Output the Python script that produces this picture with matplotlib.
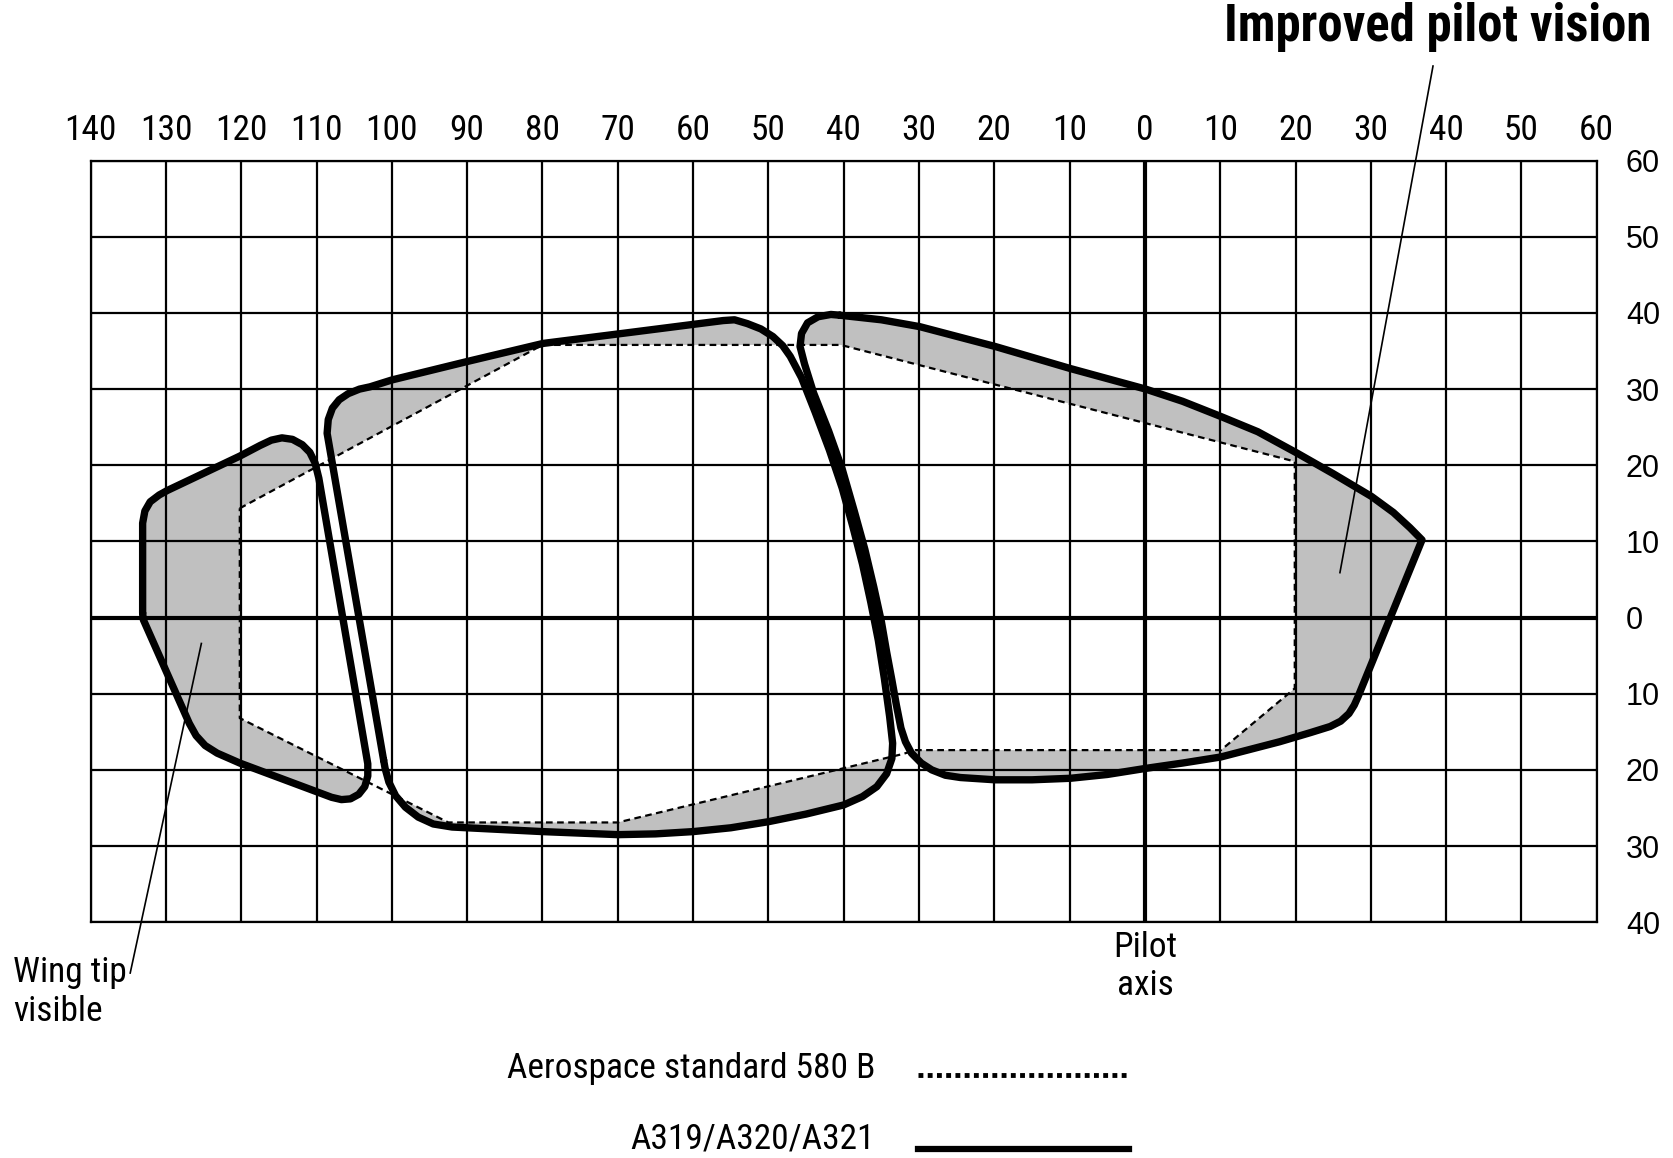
import matplotlib
matplotlib.use("Agg")
import matplotlib.pyplot as plt
from matplotlib import font_manager
from matplotlib.lines import Line2D

installed = {f.name for f in font_manager.fontManager.ttflist}
NARROW = [n for n in ["Roboto Condensed", "Liberation Sans Narrow", "Open Sans Condensed",
                      "DejaVu Sans Condensed", "Liberation Sans"] if n in installed] + ["DejaVu Sans"]
REGULAR = ["Liberation Sans", "DejaVu Sans"]

# angles in degrees: x < 0 is left of the pilot axis, y < 0 is below the horizon
x_ticks = list(range(-140, 61, 10))
y_ticks = list(range(-40, 61, 10))

# Aerospace standard 580 B (dashed)
as580b_x = [-120.2, -80, -40.4, 19.9, 19.9, 10.1, -30.5, -32.1, -70, -92.5, -120.2, -120.2]
as580b_y = [14.35, 35.8, 35.8, 20.5, -9.3, -17.4, -17.4, -17.9, -26.9, -26.9, -13.2, 14.35]

# A319/A320/A321 windows (solid)
side_win_x = [-133.1, -133.1, -132.8, -132.1, -130.9, -129.8, -120.2, -117.5, -116.0, -114.6,
              -113.2, -111.9, -110.9, -110.2, -109.7, -103.2, -103.2, -103.6, -104.4, -105.5,
              -106.7, -108.0, -120.2, -123.2, -124.8, -126.0, -126.9, -133.0, -133.1]
side_win_y = [0.6, 12.4, 14.0, 15.2, 16.1, 16.7, 21.2, 22.6, 23.3, 23.6,
              23.4, 22.7, 21.7, 20.3, 18.3, -19.2, -20.8, -22.2, -23.2, -23.8,
              -23.9, -23.6, -19.1, -17.8, -16.8, -15.5, -13.9, -0.3, 0.6]

mid_win_x = [-101.1, -108.6, -108.45, -107.9, -107.0, -105.8, -104.3, -102.9, -100.0, -90.1,
             -79.9, -67.9, -56.0, -54.5, -52.8, -51.0, -49.4, -48.1, -47.1, -45.6, -43.8,
             -41.9, -40.2, -38.8, -37.5, -36.4, -35.4, -34.6, -33.9, -33.5, -33.6, -34.3,
             -35.6, -37.5, -40.0, -45.0, -50.0, -55.0, -60.0, -65.0, -70.0, -80.0, -90.0,
             -92.0, -94.5, -96.5, -98.2, -99.5, -100.4, -100.9, -101.1]
mid_win_y = [-18.7, 24.2, 26.0, 27.5, 28.6, 29.4, 30.0, 30.3, 31.2, 33.6,
             36.0, 37.5, 39.0, 39.1, 38.6, 37.9, 36.9, 35.7, 34.3, 31.5, 27.0,
             22.0, 17.0, 12.0, 7.0, 2.0, -3.0, -8.0, -13.0, -16.5, -18.5, -20.5,
             -22.2, -23.5, -24.6, -25.8, -26.8, -27.6, -28.1, -28.4, -28.5, -28.1, -27.6,
             -27.5, -27.1, -26.2, -24.9, -23.4, -21.6, -19.8, -18.7]

front_win_x = [-40.5, -35.0, -29.9, -19.9, -9.9, 0.1, 5.0, 10.1, 15.0, 20.2, 25.0, 30.1,
               33.0, 35.2, 36.8, 28.3, 27.8, 27.1, 26.0, 24.6, 22.0, 17.9, 10.1, 5.0, 0.1,
               -5.0, -9.9, -15.0, -19.9, -24.5, -26.5, -28.3, -29.7, -31.0, -31.8, -32.4,
               -33.0, -33.6, -34.3, -35.0, -36.0, -37.2, -38.6, -40.2, -42.0, -44.0, -45.2,
               -45.8, -45.6, -44.8, -43.4, -41.7, -40.5]
front_win_y = [39.7, 39.1, 38.2, 35.6, 32.7, 30.0, 28.4, 26.4, 24.4, 21.6, 18.9, 15.9,
               13.8, 11.8, 10.2, -10.4, -11.5, -12.6, -13.6, -14.3, -15.1, -16.3, -18.3, -19.1, -19.8,
               -20.6, -21.1, -21.3, -21.3, -21.0, -20.7, -20.0, -19.1, -17.8, -16.3, -14.5,
               -11.5, -8.2, -4.5, -0.5, 4.0, 9.0, 14.0, 19.5, 24.5, 29.5, 33.3,
               35.6, 37.3, 38.7, 39.5, 39.8, 39.7]

windows = [(side_win_x, side_win_y), (mid_win_x, mid_win_y), (front_win_x, front_win_y)]

# leader lines: (x pair, y pair) in degrees
vision_leader = ([38.26, 25.9], [72.42, 5.9])
wingtip_leader = ([-125.3, -134.75], [-3.4, -46.67])

fig = plt.figure(figsize=(16.73, 11.58), dpi=100)
ax = fig.add_axes([0.0542, 0.2036, 0.9002, 0.6577])

for wx, wy in windows:
    ax.fill(wx, wy, facecolor="#c0c0c0", edgecolor="none", zorder=1)
ax.fill(as580b_x, as580b_y, facecolor="white", edgecolor="none", zorder=1.1)

ax.plot(as580b_x, as580b_y, color="black", lw=1.6, linestyle=(0, (3, 2)), zorder=3)
for wx, wy in windows:
    ax.plot(wx, wy, color="black", lw=5.3, solid_joinstyle="round", solid_capstyle="round", zorder=4)

ax.axhline(0, color="black", lw=3, zorder=1.6)
ax.axvline(0, color="black", lw=3, zorder=1.6)

ax.set_xlim(-140, 60)
ax.set_ylim(-40, 60)
ax.set_xticks(x_ticks)
ax.set_yticks(y_ticks)
ax.set_xticklabels([str(abs(v)) for v in x_ticks], family=NARROW, fontsize=25.5)
ax.set_yticklabels([str(abs(v)) for v in y_ticks], family=REGULAR, fontsize=22)
ax.tick_params(axis="x", length=0, top=False, bottom=False, labeltop=True, labelbottom=False, pad=10)
ax.tick_params(axis="y", length=0, left=False, right=False, labelleft=False, labelright=True, pad=21)
ax.grid(True, color="black", lw=1.6)
for s in ax.spines.values():
    s.set_linewidth(1.6)

ax.plot(*vision_leader, color="black", lw=1.2, clip_on=False, zorder=5)
ax.plot(*wingtip_leader, color="black", lw=1.2, clip_on=False, zorder=5)

fig.text(0.9869, 0.9765, "Improved pilot vision", ha="right", va="center",
         family=NARROW, fontsize=36.5, fontweight="bold")
fig.text(0.6848, 0.1655, "Pilot\naxis", ha="center", va="center", family=NARROW,
         fontsize=25.5, linespacing=1.2, multialignment="center")
fig.text(0.0077, 0.1434, "Wing tip\nvisible", ha="left", va="center", family=NARROW,
         fontsize=25.5, linespacing=1.2)

fig.text(0.523, 0.0769, "Aerospace standard 580 B", ha="right", va="center",
         family=NARROW, fontsize=25.5)
fig.text(0.523, 0.0164, "A319/A320/A321", ha="right", va="center",
         family=NARROW, fontsize=25.5)
fig.add_artist(Line2D([0.5485, 0.6748], [0.0721, 0.0721], transform=fig.transFigure,
                      color="black", lw=3.5, linestyle=(0, (1.0, 0.9)), dash_capstyle="butt"))
fig.add_artist(Line2D([0.5485, 0.6748], [0.0076, 0.0076], transform=fig.transFigure,
                      color="black", lw=4.5))

fig.savefig("out.png", dpi=100, facecolor="white")
